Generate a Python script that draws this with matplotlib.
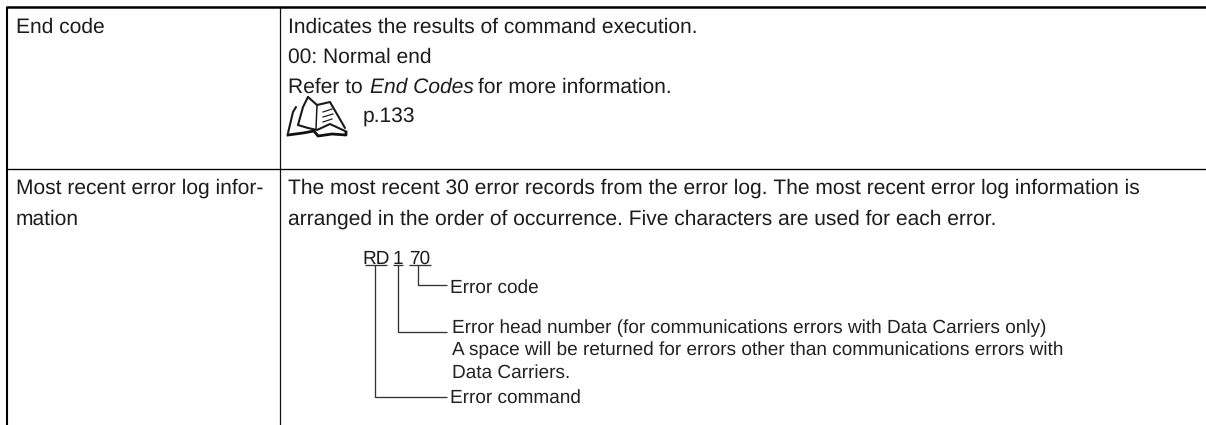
import matplotlib
matplotlib.use("Agg")
import matplotlib.pyplot as plt

W, H = 1206, 425
plt.rcParams['font.family'] = ['Liberation Sans', 'DejaVu Sans']
plt.rcParams['text.hinting'] = 'no_hinting'
plt.rcParams['text.hinting_factor'] = 1

left_cell_text = ["End code", "Most recent error log infor-", "mation"]
left_cell_y = [25, 186, 217]
right_lines = [
    ("Indicates the results of command execution.", 25),
    ("00: Normal end", 55),
    ("p.133", 115),
    ("The most recent 30 error records from the error log. The most recent error log information is", 186),
    ("arranged in the order of occurrence. Five characters are used for each error.", 217),
]
diagram_labels = [
    ("Error code", 450, 286),
    ("Error head number (for communications errors with Data Carriers only)", 452, 326),
    ("A space will be returned for errors other than communications errors with", 452, 348),
    ("Data Carriers.", 452, 371),
    ("Error command", 450, 396),
]

fig = plt.figure(figsize=(W/100, H/100), dpi=100)
ax = fig.add_axes([0, 0, 1, 1])
ax.set_xlim(0, W); ax.set_ylim(H, 0); ax.axis('off')
fs = 15.3
C = '#1c1c1c'

for s, y in zip(left_cell_text, left_cell_y):
    ax.text(15.5, y, s, fontsize=fs, va='center_baseline', color=C)
for s, y in right_lines:
    ax.text(287.5 if s != "p.133" else 363, y, s, fontsize=fs, va='center_baseline', color=C)
ax.text(287.5, 85, "Refer to", fontsize=fs, va='center_baseline', color=C)
ax.text(369.5, 85, "End Codes", fontsize=fs, va='center_baseline', style='italic', color=C)
ax.text(478, 85, "for more information.", fontsize=fs, va='center_baseline', color=C)

# table rules
ax.plot([6, W], [7, 7], color='k', lw=1.8, solid_capstyle='butt')
ax.plot([7, 7], [7, H], color='k', lw=1.5, solid_capstyle='butt')
ax.plot([279.5, 279.5], [7, H], color='#111111', lw=0.9, solid_capstyle='butt')
ax.plot([6, W], [168.5, 168.5], color='k', lw=0.95, solid_capstyle='butt')

# book icon
bk = dict(color='#1a1a1a', lw=1.5, solid_capstyle='round', solid_joinstyle='round')
ax.plot([288, 293, 296], [133, 112, 107], **bk)
ax.plot([288, 303, 314, 318, 332, 346, 346], [135, 133, 131, 136, 134, 135, 132], color='#111111', lw=2.0, solid_joinstyle='round')
ax.plot([298, 303, 308], [125, 107, 97], **bk)
ax.plot([298, 308, 317, 330, 345], [125, 128, 130, 124, 131], **bk)
ax.plot([308, 317, 330, 345], [97, 105, 102, 128], **bk)
ax.plot([317, 316], [105, 129], color='#1a1a1a', lw=1.1)
for x0, y0, x1, y1 in [(323, 112, 332, 109), (323, 117, 333, 114), (323, 122, 332, 119)]:
    ax.plot([x0, x1], [y0, y1], color='#222222', lw=0.9)

# diagram
ax.text(362, 257, "RD", fontsize=14, va='center_baseline', color=C)
ax.text(393, 257, "1", fontsize=14, va='center_baseline', color=C)
ax.text(409, 257, "70", fontsize=14, va='center_baseline', color=C)
L = dict(color='#333333', lw=0.95, solid_joinstyle='miter', solid_capstyle='butt')
ax.plot([365, 387], [265, 265], **L)
ax.plot([393, 403], [265, 265], **L)
ax.plot([409, 431], [265, 265], **L)
ax.plot([375, 375, 447], [265, 397, 397], **L)
ax.plot([398, 398, 447], [265, 332, 332], **L)
ax.plot([418, 418, 447], [265, 285, 285], **L)
for s, x, y in diagram_labels:
    ax.text(x, y, s, fontsize=13.38, va='center_baseline', color='#222222')

fig.savefig("out.png", dpi=100)
